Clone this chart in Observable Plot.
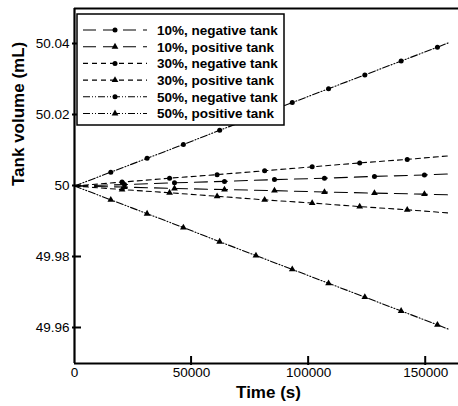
<!DOCTYPE html>
<html>
<head>
<meta charset="utf-8">
<script src="https://cdn.jsdelivr.net/npm/d3@7"></script>
<script src="https://cdn.jsdelivr.net/npm/@observablehq/plot@0.6"></script>
<style>
  html, body { margin: 0; padding: 0; background: #fff; }
  #wrap { position: relative; width: 458px; height: 406px; font-family: "Liberation Sans", Arial, sans-serif; }
  #legend { position: absolute; left: 0; top: 0; }
</style>
</head>
<body>
<div id="wrap"></div>
<script>
// ---- data ----
const xDomain = [0, 164000];
const yDomain = [49.95, 50.05];
const xTicks = [0, 50000, 100000, 150000];
const yTicks = [49.96, 49.98, 50, 50.02, 50.04];
const xLabel = "Time (s)";
const yLabel = "Tank volume (mL)";

const t10 = [0, 21350, 42700, 64050, 85400, 106750, 128100, 149450, 160000];
const neg10 = [50, 50.0004, 50.0009, 50.0013, 50.0018, 50.0022, 50.0027, 50.0031, 50.0034];
const pos10 = [50, 49.9997, 49.9993, 49.9990, 49.9987, 49.9983, 49.9980, 49.9977, 49.9975];
const t30 = [0, 20300, 40600, 60900, 81200, 101500, 121800, 142100, 160000];
const neg30 = [50, 50.0011, 50.0022, 50.0032, 50.0043, 50.0054, 50.0065, 50.0075, 50.0085];
const pos30 = [50, 49.9990, 49.9981, 49.9971, 49.9961, 49.9952, 49.9942, 49.9933, 49.9924];
const t50 = [0, 15500, 31000, 46500, 62000, 77500, 93000, 108500, 124000, 139500, 155000, 160000];
const neg50 = [50, 50.0039, 50.0078, 50.0117, 50.0157, 50.0196, 50.0235, 50.0274, 50.0313, 50.0352, 50.0391, 50.0404];
const pos50 = [50, 49.9961, 49.9922, 49.9883, 49.9843, 49.9804, 49.9765, 49.9726, 49.9687, 49.9648, 49.9609, 49.9596];

const seriesNames = ["10%, negative tank", "10%, positive tank", "30%, negative tank", "30%, positive tank", "50%, negative tank", "50%, positive tank"];
const seriesTimes = [t10, t10, t30, t30, t50, t50];
const seriesValues = [neg10, pos10, neg30, pos30, neg50, pos50];
const seriesSymbols = ["circle", "triangle", "circle", "triangle", "circle", "triangle"];

// ---- styles ----
const dashes = ["13,7", "13,7", "5,4", "5,4", "7,2,1,2,1,2", "7,2,1,2,1,2"];
const symR = {circle: 2.5, triangle: 2.5};

const W = 458, H = 406, mL = 74, mR = 0, mT = 8, mB = 43;
const tickIn = 7, tickOut = 2;

const series = seriesNames.map((name, i) => ({
  name, symbol: seriesSymbols[i], dash: dashes[i],
  pts: seriesTimes[i].map((t, j) => ({t, v: seriesValues[i][j], j, n: seriesTimes[i].length}))
}));

const marks = [];
for (const s of series) {
  marks.push(Plot.line(s.pts, {x: "t", y: "v", stroke: "#000", strokeWidth: 1.1, strokeDasharray: s.dash}));
  marks.push(Plot.dot(s.pts.filter(p => p.j > 0 && p.j < p.n - 1), {x: "t", y: "v", symbol: () => s.symbol, r: symR[s.symbol], fill: "#000", stroke: "none"}));
}

const plot = Plot.plot({
  width: W,
  height: H,
  marginLeft: mL,
  marginRight: mR,
  marginTop: mT,
  marginBottom: mB,
  style: {fontFamily: '"Liberation Sans", Arial, sans-serif', background: "#fff", color: "#000"},
  x: {domain: xDomain, label: null},
  y: {domain: yDomain, label: null},
  symbol: {type: "identity"},
  marks: [
    ...marks,
    Plot.axisX({ticks: xTicks, tickFormat: d => String(d), tickSize: 0, tickPadding: 4, fontSize: 13.5, label: null}),
    Plot.axisY({ticks: yTicks, tickFormat: d => String(+d.toFixed(2)), tickSize: 0, tickPadding: 5, fontSize: 13.5, label: null}),
    Plot.ruleX([xDomain[0]], {stroke: "#000", strokeWidth: 2.2}),
    Plot.ruleY([yDomain[0]], {stroke: "#000", strokeWidth: 2.2}),
    Plot.ruleY([yDomain[1]], {stroke: "#000", strokeWidth: 2.2}),
    Plot.text([yLabel], {text: d => d, frameAnchor: "left", dx: -56, rotate: -90, fontSize: 17, fontWeight: "bold"}),
    Plot.text([xLabel], {text: d => d, frameAnchor: "bottom", dy: 34, dx: 2, fontSize: 17, fontWeight: "bold"})
  ]
});
const wrap = document.getElementById("wrap");
wrap.appendChild(plot);

// ---- overlay: inward tick marks (positioned via the plot's own scales) + legend ----
const sx = plot.scale("x"), sy = plot.scale("y");
const ov = d3.select(wrap).append("svg")
  .attr("id", "legend").attr("width", W).attr("height", H)
  .style("pointer-events", "none");
const x0 = sx.apply(xDomain[0]), y0 = sy.apply(yDomain[0]);
ov.append("g").selectAll("line").data(xTicks.filter(d => d > xDomain[0])).join("line")
  .attr("x1", d => sx.apply(d)).attr("x2", d => sx.apply(d))
  .attr("y1", y0 + tickOut).attr("y2", y0 - tickIn)
  .attr("stroke", "#000").attr("stroke-width", 2);
ov.append("g").selectAll("line").data(yTicks).join("line")
  .attr("y1", d => sy.apply(d)).attr("y2", d => sy.apply(d))
  .attr("x1", x0 - tickOut).attr("x2", x0 + tickIn)
  .attr("stroke", "#000").attr("stroke-width", 2);

const lx = 77, ly = 14, lw = 207, lh = 111;
const rowY = i => 16 + i * 16.7;
const g = ov.append("g").attr("transform", `translate(${lx},${ly})`);
g.append("rect").attr("x", 0).attr("y", 0).attr("width", lw).attr("height", lh)
  .attr("fill", "#fff").attr("stroke", "#000").attr("stroke-width", 1.5);
series.forEach((s, i) => {
  const y = rowY(i);
  g.append("line").attr("x1", 6).attr("x2", 70).attr("y1", y).attr("y2", y)
    .attr("stroke", "#000").attr("stroke-width", 1.1).attr("stroke-dasharray", s.dash);
  g.append("path").attr("transform", `translate(38,${y})`)
    .attr("d", d3.symbol(s.symbol === "circle" ? d3.symbolCircle : d3.symbolTriangle, Math.PI * symR[s.symbol] ** 2)())
    .attr("fill", "#000");
  g.append("text").attr("x", 80).attr("y", y).attr("dy", "0.36em")
    .attr("font-family", '"Liberation Sans", Arial, sans-serif')
    .attr("font-size", 13.5).attr("font-weight", "bold").text(s.name);
});
</script>
</body>
</html>
